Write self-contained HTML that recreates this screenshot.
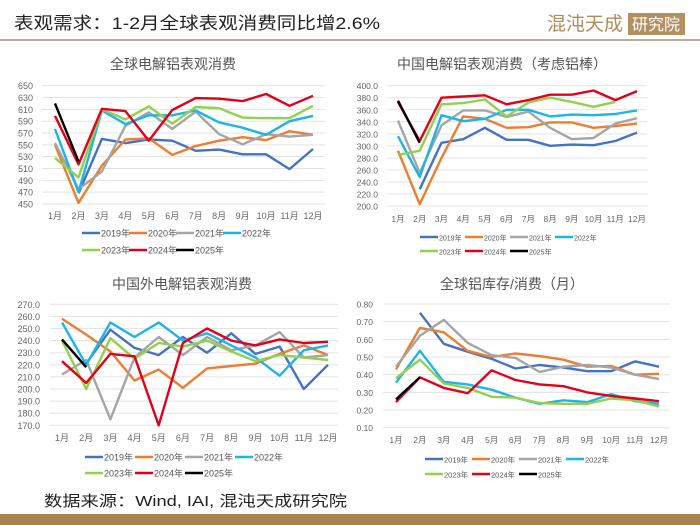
<!DOCTYPE html>
<html><head><meta charset="utf-8"><style>
body{margin:0;background:#fff;}
#wrap{position:relative;width:700px;height:525px;overflow:hidden;background:#fff;font-family:"Liberation Sans","Noto Sans CJK SC",sans-serif;}
svg text{font-family:"Liberation Sans","Noto Sans CJK SC",sans-serif;}
</style></head><body>
<div id="wrap">
<svg id="svg" width="700" height="525" viewBox="0 0 700 525">
<text x="14" y="29" font-size="17" fill="#222" textLength="366" lengthAdjust="spacingAndGlyphs">表观需求：1-2月全球表观消费同比增2.6%</text>
<g>
<text x="547" y="30" font-size="19" fill="#b08d5a">混沌天成</text>
<rect x="628" y="13" width="57" height="22" fill="#b39060"/>
<text x="656" y="30" font-size="16" fill="#fff" text-anchor="middle">研究院</text>
</g>
<rect x="0" y="39" width="700" height="2" fill="#b8ad9c"/>
<text x="44" y="506" font-size="15" fill="#222" textLength="303" lengthAdjust="spacingAndGlyphs">数据来源：Wind, IAI, 混沌天成研究院</text>
<rect x="0" y="514" width="700" height="11" fill="#a8824f"/>
</svg>
</div>
<script>
const months=['1月','2月','3月','4月','5月','6月','7月','8月','9月','10月','11月','12月'];
const years=['2019年','2020年','2021年','2022年','2023年','2024年','2025年'];
const colors=['#4472c4','#ed7d31','#a5a5a5','#1fb4e8','#92d050','#e3001b','#000000'];
const c1Ticks=[450,470,490,510,530,550,570,590,610,630,650];
const c1_2019=[null,468,560,553,559,557,540,542,534,534,509,543];
const c1_2020=[550,452,515,559,561,533,548,557,563,558,573,567];
const c1_2021=[553,475,505,582,605,577,606,568,551,568,564,567];
const c1_2022=[577,470,608,585,600,600,608,588,579,567,590,599];
const c1_2023=[528,495,610,593,615,586,614,612,596,595,595,616];
const c1_2024=[599,517,611,607,557,609,629,628,624,636,616,633];
const c1_2025=[620,522];
const c2Ticks=[200,220,240,260,280,300,320,340,360,380,400];
const c2_2019=[null,228,305,311,330,310,310,300,302,301,308,322];
const c2_2020=[292,203,280,349,345,330,331,339,339,330,333,337];
const c2_2021=[342,255,334,359,359,348,357,330,311,313,337,346];
const c2_2022=[316,248,351,341,345,360,360,349,352,351,353,359];
const c2_2023=[285,292,369,371,377,349,372,380,373,365,373,null];
const c2_2024=[373,308,380,382,384,369,376,385,385,392,376,391];
const c2_2025=[375,305];
const c3Ticks=[170,180,190,200,210,220,230,240,250,260,270];
const c3_2019=[null,221,249,234,228,243,230,246,229,235,200,220];
const c3_2020=[258,245,231,207,216,201,217,219,221,229,236,228];
const c3_2021=[212,224,175,226,243,228,243,232,236,247,226,228];
const c3_2022=[255,220,255,243,255,240,246,236,226,211,232,236];
const c3_2023=[240,200,242,225,238,235,240,231,223,228,226,224];
const c3_2024=[223,205,229,227,170,238,250,240,236,241,238,239];
const c3_2025=[241,218];
const c4Ticks=[0.1,0.2,0.3,0.4,0.5,0.6,0.7,0.8];
const c4_2019=[null,0.75,0.575,0.53,0.49,0.435,0.455,0.44,0.42,0.42,0.475,0.445];
const c4_2020=[0.43,0.665,0.64,0.535,0.50,0.52,0.505,0.485,0.445,0.45,0.40,0.405];
const c4_2021=[0.445,0.62,0.71,0.58,0.51,0.495,0.415,0.445,0.455,0.44,0.40,0.375];
const c4_2022=[0.355,0.535,0.36,0.345,0.315,0.27,0.235,0.255,0.245,0.29,0.25,0.235];
const c4_2023=[0.38,0.485,0.35,0.325,0.275,0.27,0.24,0.235,0.235,0.265,0.255,0.22];
const c4_2024=[0.245,0.385,0.325,0.295,0.425,0.37,0.345,0.335,0.30,0.28,0.265,0.25];
const c4_2025=[0.26,0.385];

const NS='http://www.w3.org/2000/svg';
const svg=document.getElementById('svg');
function mk(tag,attrs,parent){const e=document.createElementNS(NS,tag);for(const k in attrs)e.setAttribute(k,attrs[k]);parent.appendChild(e);return e;}

function chart(cfg){
  const g=mk('g',{},svg);
  
  
  const t=mk('text',{x:cfg.tx,y:cfg.ty,'font-size':cfg.tfs,fill:'#555','text-anchor':'middle'},g);
  t.textContent=cfg.title;
  
  
  const lo=cfg.ticks[0],hi=cfg.ticks[cfg.ticks.length-1];
  const y=v=>cfg.y0-(v-lo)/(hi-lo)*(cfg.y0-cfg.y1);
  const x=i=>cfg.xa+i*(cfg.xb-cfg.xa)/11;
  cfg.ticks.forEach(v=>{
    const ln=mk('line',{x1:cfg.gl,x2:cfg.gr,y1:y(v),y2:y(v),stroke:'#e3e3e3','stroke-width':1},g);
    
    
    const tl=mk('text',{x:cfg.lx,y:y(v)+3.5,'font-size':cfg.fs,fill:'#666','text-anchor':'end'},g);
    tl.textContent=cfg.fmt(v);
    
    
  });
  months.forEach((m,i)=>{
    const tl=mk('text',{x:x(i),y:cfg.xly,'font-size':cfg.fs,fill:'#666','text-anchor':'middle'},g);
    tl.textContent=m;
    
    
  });
  cfg.series.forEach((s,si)=>{
    let d='',pen=false;
    s.forEach((v,i)=>{if(v==null){pen=false;return;}d+=(pen?'L':'M')+x(i).toFixed(1)+','+y(v).toFixed(1);pen=true;});
    const p=mk('path',{d:d,fill:'none',stroke:colors[si],'stroke-width':2.4,'stroke-linejoin':'round'},g);
    
    
  });
  years.forEach((yr,si)=>{
    const row=si<4?0:1,col=si<4?si:si-4;
    const lx=cfg.lgx+col*cfg.lgs,ly=row?cfg.lgy2:cfg.lgy1;
    const lg=mk('g',{},g);
    
    
    mk('line',{x1:lx,x2:lx+18,y1:ly,y2:ly,stroke:colors[si],'stroke-width':2.4},lg);
    const tt=mk('text',{x:lx+19,y:ly+3.5,'font-size':cfg.lfs,fill:'#555'},lg);
    tt.textContent=yr;
  });
}
chart({name:'global-consumption-chart',title:'全球电解铝表观消费',tx:173,ty:69,tfs:14,ticks:c1Ticks,y0:204,y1:85.7,xa:55,xb:313,gl:42,gr:325,lx:33,xly:219,fs:9,fmt:v=>v,
  series:[c1_2019,c1_2020,c1_2021,c1_2022,c1_2023,c1_2024,c1_2025],lgx:82,lgs:47,lgy1:233,lgy2:250,lfs:9});
chart({name:'china-consumption-chart',title:'中国电解铝表观消费（考虑铝棒）',tx:502,ty:69,tfs:14,ticks:c2Ticks,y0:206,y1:85.7,xa:398,xb:637,gl:387,gr:647,lx:378,xly:222,fs:8.5,fmt:v=>v.toFixed(1),
  series:[c2_2019,c2_2020,c2_2021,c2_2022,c2_2023,c2_2024,c2_2025],lgx:420,lgs:45,lgy1:237,lgy2:251,lfs:7});
chart({name:'ex-china-consumption-chart',title:'中国外电解铝表观消费',tx:182,ty:289,tfs:14,ticks:c3Ticks,y0:425.3,y1:304.3,xa:62,xb:328,gl:50,gr:338,lx:40,xly:441,fs:9,fmt:v=>v.toFixed(1),
  series:[c3_2019,c3_2020,c3_2021,c3_2022,c3_2023,c3_2024,c3_2025],lgx:85,lgs:50,lgy1:457,lgy2:473,lfs:9});
chart({name:'inventory-consumption-chart',title:'全球铝库存/消费（月）',tx:512,ty:289,tfs:14,ticks:c4Ticks,y0:427.7,y1:304,xa:396,xb:659,gl:383,gr:670,lx:373,xly:443,fs:8.5,fmt:v=>v.toFixed(2),
  series:[c4_2019,c4_2020,c4_2021,c4_2022,c4_2023,c4_2024,c4_2025],lgx:425,lgs:47,lgy1:459,lgy2:474,lfs:7.5});
</script>
</body></html>
